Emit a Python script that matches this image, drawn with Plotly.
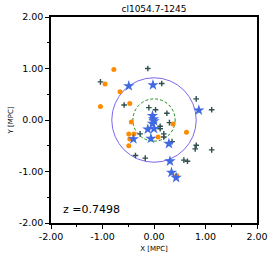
import plotly.graph_objects as go

# ---- data (Mpc) ----
orange_x = [-0.78, -0.95, -0.66, -1.04, -0.47, -0.44, 0.37, 0.63, -0.49, -0.39, -0.47, -0.49, 0.08, 0.44]
orange_y = [0.98, 0.70, 0.55, 0.26, 0.32, -0.04, -0.08, -0.24, -0.27, -0.27, -0.37, -0.50, -0.33, -1.08]

star_x = [-0.49, -0.02, 0.87, -0.03, -0.01, 0.00, -0.03, -0.12, 0.00, -0.06, -0.40, 0.29, 0.31, 0.34, 0.43]
star_y = [0.66, 0.68, 0.19, 0.08, 0.02, -0.02, -0.07, -0.18, -0.17, -0.36, -0.37, -0.46, -0.80, -1.02, -1.12]

plus_x = [-1.04, -0.12, 0.15, 0.82, 1.12, -0.58, -0.10, 0.03, 0.25, 0.30, 0.12, 0.12,
          -0.27, 0.19, 0.19, 0.35, 0.82, 0.80, 1.12, -0.36, -0.17, 0.58, 0.65]
plus_y = [0.74, 1.00, 0.71, 0.41, 0.20, 0.29, 0.24, 0.20, 0.13, -0.05, -0.12, -0.17,
          -0.27, -0.27, -0.33, -0.42, -0.49, -0.56, -0.58, -0.69, -0.74, -0.78, -0.80]

outer_radius = 0.82
inner_radius = 0.41
title_text = "cl1054.7-1245"
redshift_label = "z =0.7498"
tick_vals = [-2, -1, 0, 1, 2]
tick_text = ["-2.00", "-1.00", "0.00", "1.00", "2.00"]

FONT = "DejaVu Sans"

fig = go.Figure()
fig.add_trace(go.Scatter(x=plus_x, y=plus_y, mode="markers",
                         marker=dict(symbol="cross-thin", size=4, color="#2f4f4f",
                                     line=dict(width=1.4, color="#2f4f4f"))))
fig.add_trace(go.Scatter(x=orange_x, y=orange_y, mode="markers",
                         marker=dict(symbol="circle", size=5, color="#ff8c00")))
fig.add_trace(go.Scatter(x=star_x, y=star_y, mode="markers",
                         marker=dict(symbol="star", size=8.5, color="#4169e1")))

fig.add_shape(type="circle", xref="x", yref="y", layer="below",
              x0=-outer_radius, x1=outer_radius, y0=-outer_radius, y1=outer_radius,
              line=dict(color="#7b68ee", width=1))
fig.add_shape(type="circle", xref="x", yref="y", layer="below",
              x0=-inner_radius, x1=inner_radius, y0=-inner_radius, y1=inner_radius,
              line=dict(color="#228b22", width=1, dash="3px,2px"))

fig.add_annotation(x=-1.80, y=-1.74, xref="x", yref="y", text=redshift_label,
                   showarrow=False, xanchor="left", yanchor="middle",
                   font=dict(family=FONT, size=11, color="black"))

axis_common = dict(range=[-2, 2], tickvals=tick_vals, ticktext=tick_text,
                   ticks="outside", ticklen=4, tickwidth=1, tickcolor="black",
                   showgrid=False, zeroline=False, showline=True, linecolor="black",
                   linewidth=1.5, mirror=True, automargin=False,
                   tickfont=dict(family=FONT, size=9.5, color="black"),
                   minor=dict(tickvals=[-1.5, -0.5, 0.5, 1.5], ticks="outside",
                              ticklen=2.5, tickcolor="black", showgrid=False))

fig.update_xaxes(**axis_common,
                 title=dict(text="X [MPC]", font=dict(family=FONT, size=7, color="black"),
                            standoff=5))
fig.update_yaxes(**axis_common,
                 title=dict(text="Y [MPC]", font=dict(family=FONT, size=7, color="black"),
                            standoff=4))

fig.update_layout(
    width=274, height=258,
    margin=dict(l=51, r=17, t=17, b=35),
    paper_bgcolor="white", plot_bgcolor="white",
    showlegend=False,
    title=dict(text=title_text, xref="paper", x=0.5, xanchor="center",
               yref="container", y=0.965, yanchor="middle",
               font=dict(family=FONT, size=9, color="black")),
)

fig.write_html("out.html", config={"displayModeBar": False},
               post_script="document.body.style.margin='0';")
